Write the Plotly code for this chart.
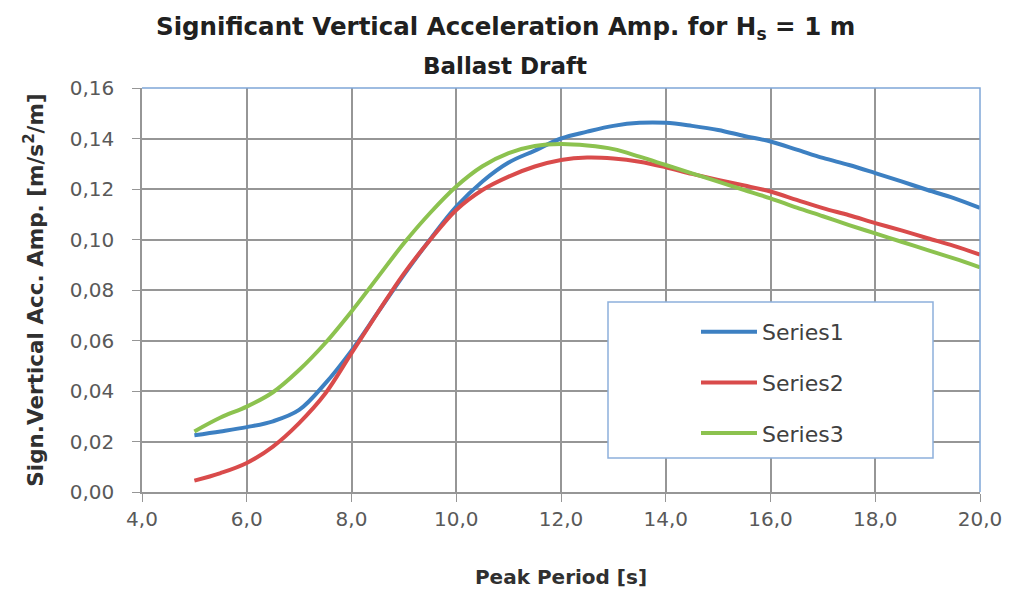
import plotly.graph_objects as go

periods = [5.0, 5.5, 6.0, 6.5, 7.0, 7.5, 8.0, 8.5, 9.0, 9.5, 10.0, 10.5, 11.0, 11.5, 12.0,
           12.5, 13.0, 13.5, 14.0, 14.5, 15.0, 15.5, 16.0, 16.5, 17.0, 17.5, 18.0, 18.5,
           19.0, 19.5, 20.0]

series1 = [0.0225, 0.0240, 0.0257, 0.0280, 0.0325, 0.0430, 0.0560, 0.0710, 0.0860, 0.1000,
           0.1130, 0.1230, 0.1305, 0.1352, 0.1400, 0.1427, 0.1450, 0.1462, 0.1462, 0.1450,
           0.1434, 0.1410, 0.1388, 0.1356, 0.1323, 0.1295, 0.1263, 0.1230, 0.1196, 0.1164,
           0.1125]
series2 = [0.0045, 0.0075, 0.0115, 0.0180, 0.0273, 0.0390, 0.0550, 0.0710, 0.0865, 0.0998,
           0.1117, 0.1196, 0.1249, 0.1289, 0.1315, 0.1325, 0.1321, 0.1308, 0.1286, 0.1260,
           0.1236, 0.1214, 0.1190, 0.1157, 0.1124, 0.1096, 0.1065, 0.1036, 0.1005, 0.0975,
           0.0940]
series3 = [0.0240, 0.0295, 0.0338, 0.0395, 0.0483, 0.0590, 0.0715, 0.0850, 0.0985, 0.1105,
           0.1210, 0.1290, 0.1342, 0.1370, 0.1378, 0.1372, 0.1358, 0.1328, 0.1295, 0.1262,
           0.1229, 0.1196, 0.1163, 0.1126, 0.1092, 0.1057, 0.1024, 0.0991, 0.0958, 0.0925,
           0.0890]

names = ["Series1", "Series2", "Series3"]
colors = ["#3d80c2", "#d94b4b", "#8cc24f"]

FONT = "DejaVu Sans, sans-serif"

fig = go.Figure()
for name, ys, col in zip(names, [series1, series2, series3], colors):
    fig.add_trace(go.Scatter(x=periods, y=ys, name=name, mode="lines",
                             line=dict(color=col, width=4, shape="spline"),
                             legendgroup=name))

grid = "#969696"
fig.update_layout(
    width=1015, height=596,
    margin=dict(l=142, r=35, t=88, b=104),
    paper_bgcolor="white", plot_bgcolor="white",
    separators=", ",
    font=dict(family=FONT, color="#404040"),
    showlegend=True,
    legend=dict(x=(696 - 142) / 838, y=(492 - 311) / 404, xanchor="left", yanchor="top",
                bgcolor="rgba(0,0,0,0)", borderwidth=0,
                font=dict(size=22, family=FONT, color="#404040"),
                tracegroupgap=19, itemwidth=56),
    xaxis=dict(range=[4, 20], dtick=2, tick0=4, tickformat=".1f",
               showgrid=True, gridcolor=grid, gridwidth=1.5,
               showline=True, linecolor=grid, linewidth=1.5,
               ticks="outside", ticklen=8, tickcolor=grid, ticklabelstandoff=0,
               tickfont=dict(size=20, color="#595959"),
               title=dict(text="<b>Peak Period [s]</b>", font=dict(size=20, color="#303030"), standoff=40),
               zeroline=False),
    yaxis=dict(range=[0, 0.16], dtick=0.02, tickformat=".2f",
               showgrid=True, gridcolor=grid, gridwidth=1.5,
               showline=True, linecolor=grid, linewidth=1.5,
               ticks="outside", ticklen=8, tickcolor=grid, ticklabelstandoff=14,
               tickfont=dict(size=20, color="#595959"),
               title=dict(text="<b>Sign.Vertical Acc. Amp. [m/s<sup>2</sup>/m]</b>",
                          font=dict(size=21.5, color="#303030"), standoff=20),
               zeroline=False),
)

# plot-area border (top & right, light blue)
fig.add_shape(type="path", xref="paper", yref="paper",
              path="M 0,1 L 1,1 L 1,0", line=dict(color="#7fa6d8", width=1.5))
# legend box
fig.add_shape(type="rect", xref="paper", yref="paper",
              x0=(608 - 142) / 838, x1=(933 - 142) / 838,
              y0=(492 - 458) / 404, y1=(492 - 302) / 404,
              line=dict(color="#8db0dc", width=1.5), fillcolor="white", layer="above")

fig.add_annotation(text="<b>Significant Vertical Acceleration Amp. for H<sub>s</sub> = 1 m</b>",
                   xref="paper", yref="paper", x=(505 - 142) / 838, y=1 + (88 - 28) / 404,
                   xanchor="center", yanchor="middle",
                   showarrow=False, font=dict(size=24.5, color="#202020", family=FONT))
fig.add_annotation(text="<b>Ballast Draft</b>",
                   xref="paper", yref="paper", x=(505 - 142) / 838, y=1 + (88 - 66) / 404,
                   xanchor="center", yanchor="middle",
                   showarrow=False, font=dict(size=23, color="#202020", family=FONT))

fig.write_html("out.html")
